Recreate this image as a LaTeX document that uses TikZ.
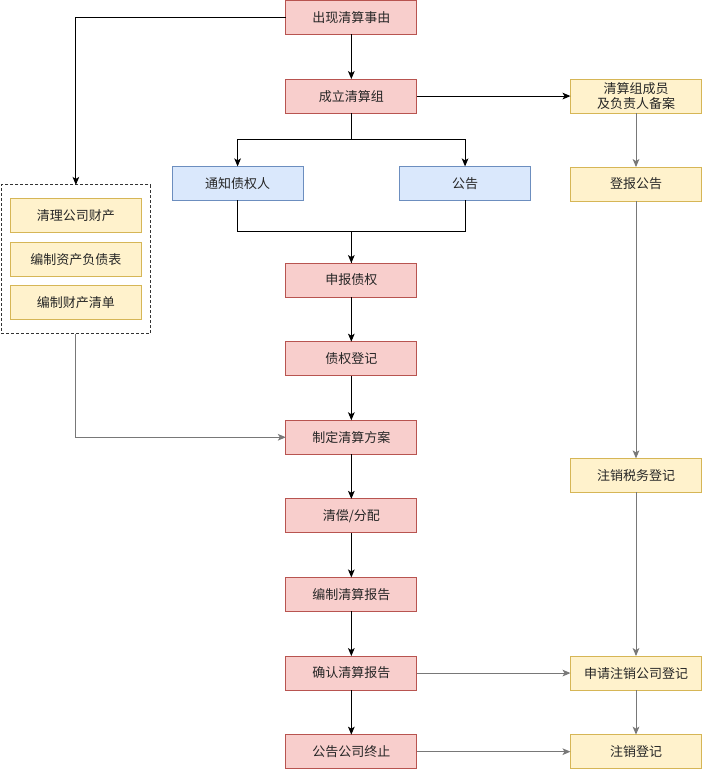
\documentclass[tikz,border=0pt]{standalone}
\usepackage{xcolor}
\usepackage{fontspec}
\setmainfont{Noto Sans CJK SC}
\usepackage{tikz}
\usetikzlibrary{arrows.meta, positioning, calc, fit}
\definecolor{stagefill}{HTML}{F8CECC}
\definecolor{stagedraw}{HTML}{B85450}
\definecolor{noticefill}{HTML}{DAE8FC}
\definecolor{noticedraw}{HTML}{6C8EBF}
\definecolor{filingfill}{HTML}{FFF2CC}
\definecolor{filingdraw}{HTML}{D6B656}
\definecolor{linegray}{RGB}{120, 120, 120}

\begin{document}
\begin{tikzpicture}[
        stage/.style={rectangle, draw=stagedraw, fill=stagefill, line width=0.75pt, outer sep=0pt, minimum width=98.25pt, minimum height=25.5pt, align=center, inner sep=1pt, text=black!85, font=\fontsize{9.75pt}{11.5pt}\selectfont},
        notice/.style={stage, draw=noticedraw, fill=noticefill},
        filing/.style={stage, draw=filingdraw, fill=filingfill},
        group/.style={draw=black!80, line width=0.75pt, outer sep=0pt, dash pattern=on 2.25pt off 1.5pt, inner xsep=6.75pt, inner ysep=10.5pt},
        flow/.style={line width=0.75pt, -{Stealth[length=6pt, width=5pt, inset=1.5pt]}},
        flowgray/.style={flow, draw=linegray},
    ]
    \useasboundingbox (0,0) rectangle (527.25pt,-578.25pt);

    % Main column
    \node[stage] (start) at (263.5pt,-13.1pt) {出现清算事由};
    \node[stage, below=33.45pt of start] (team) {成立清算组};
    \node[stage, below=112.5pt of team] (claim) {申报债权};
    \node[stage, below=33.45pt of claim] (register) {债权登记};
    \node[stage, below=33.45pt of register] (plan) {制定清算方案};
    \node[stage, below=33.45pt of plan] (pay) {清偿/分配};
    \node[stage, below=33.45pt of pay] (report) {编制清算报告};
    \node[stage, below=33.45pt of report] (confirm) {确认清算报告};
    \node[stage, below=33.45pt of confirm] (close) {公告公司终止};

    % Notices
    \node[notice, below=40pt of team, xshift=-85.3pt] (notify) {通知债权人};
    \node[notice, below=40pt of team, xshift=85.3pt] (announce) {公告};

    % Filing column
    \node[filing, right=115.25pt of team] (record) {清算组成员\\及负责人备案};
    \node[filing, below=40.5pt of record] (paper) {登报公告};
    \node[filing, below=193pt of paper] (tax) {注销税务登记};
    \node[filing, right=115.25pt of confirm] (apply) {申请注销公司登记};
    \node[filing, right=115.25pt of close] (cancel) {注销登记};

    % Property tasks
    \node[filing] (assets) at (56.9pt,-161.9pt) {清理公司财产};
    \node[filing, below=7.1pt of assets] (sheet) {编制资产负债表};
    \node[filing, below=7.1pt of sheet] (inventory) {编制财产清单};
    \node[group, fit=(assets) (sheet) (inventory)] (tasks) {};

    % Connections
    \draw[flow] (start.west) -| (tasks.north);
    \draw[flow] (start) -- (team);
    \draw[flow] (team.south) -- ++(0,-19.7pt) -| (notify.north);
    \draw[flow] (team.south) -- ++(0,-19.7pt) -| (announce.north);
    \draw[line width=0.75pt] (notify.south) -- ++(0,-23pt) -| (claim.north);
    \draw[flow] (announce.south) -- ++(0,-23pt) -| (claim.north);
    \draw[flow] (claim) -- (register);
    \draw[flow] (register) -- (plan);
    \draw[flowgray] (tasks.south) |- (plan.west);
    \draw[flow] (plan) -- (pay);
    \draw[flow] (pay) -- (report);
    \draw[flow] (report) -- (confirm);
    \draw[flow] (confirm) -- (close);
    \draw[flow] (team) -- (record);
    \draw[flowgray] (record) -- (paper);
    \draw[flowgray] (paper) -- (tax);
    \draw[flowgray] (tax) -- (apply);
    \draw[flowgray] (apply) -- (cancel);
    \draw[flowgray] (confirm) -- (apply);
    \draw[flowgray] (close) -- (cancel);

\end{tikzpicture}
\end{document}
